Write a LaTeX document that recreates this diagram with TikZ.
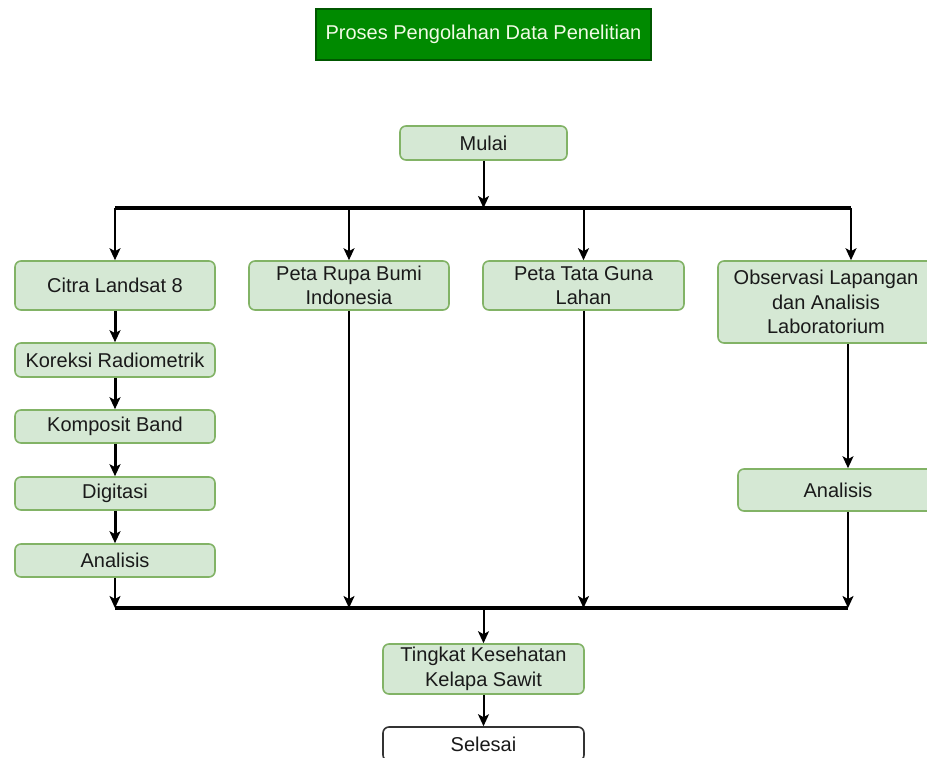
\documentclass[tikz,border=0pt]{standalone}
\usepackage{fontspec}
\setmainfont{Liberation Sans}
\usetikzlibrary{arrows.meta}
\definecolor{boxfill}{HTML}{D5E8D4}
\definecolor{boxline}{HTML}{82B366}
\definecolor{titlefill}{HTML}{008A00}
\definecolor{titleline}{HTML}{005700}
\definecolor{titletxt}{HTML}{F2FBE6}
\definecolor{txt}{HTML}{1A1A1A}
\tikzset{
  gbox/.style={draw=boxline, fill=boxfill, line width=1.6pt, rounded corners=6pt,
    align=center, text=txt, inner sep=0pt, font=\fontsize{20}{24.5}\selectfont},
  wbox/.style={draw=black!80, fill=white, line width=1.6pt, rounded corners=6pt,
    align=center, text=txt, inner sep=0pt, font=\fontsize{20}{24.5}\selectfont},
  titlebox/.style={draw=titleline, fill=titlefill, line width=1.2pt,
    text=titletxt, inner sep=0pt, font=\fontsize{20}{24}\selectfont},
  thin/.style={line width=2pt, -{Stealth[length=12pt,width=11pt,inset=3pt]}},
  thick/.style={line width=3pt, -{Stealth[length=12pt,width=11pt,inset=3pt]}},
  bar/.style={line width=3.2pt},
}
\begin{document}
\begin{tikzpicture}[x=1pt,y=-1pt]
\useasboundingbox (0,0) rectangle (927,758);
\clip (0,0) rectangle (927,758);
% title
\node[titlebox, minimum width=335pt, minimum height=51pt] (title) at (483.5,34.5) {Proses Pengolahan Data Penelitian};
% start
\node[gbox, minimum width=167pt, minimum height=34pt] (mulai) at (483.5,143) {Mulai};
% column heads
\node[gbox, minimum width=200pt, minimum height=49pt] (citra) at (115,285.5) {Citra Landsat 8};
\node[gbox, minimum width=200pt, minimum height=49pt] (rbi) at (349,285.5) {Peta Rupa Bumi\\Indonesia};
\node[gbox, minimum width=201pt, minimum height=49pt] (tgl) at (583.5,285.5) {Peta Tata Guna\\Lahan};
\node[gbox, minimum width=216pt, minimum height=82pt] (obs) at (826,302) {Observasi Lapangan\\dan Analisis\\Laboratorium};
% left chain
\node[gbox, minimum width=200pt, minimum height=34pt] (kor) at (115,360) {Koreksi Radiometrik};
\node[gbox, minimum width=200pt, minimum height=33pt] (kom) at (115,426.5) {Komposit Band};
\node[gbox, minimum width=200pt, minimum height=33pt] (dig) at (115,493.5) {Digitasi};
\node[gbox, minimum width=200pt, minimum height=33pt] (anl) at (115,560.5) {Analisis};
% right chain
\node[gbox, minimum width=200pt, minimum height=42pt] (anr) at (838,490) {Analisis};
% end
\node[gbox, minimum width=201pt, minimum height=50pt] (tks) at (483.5,669) {Tingkat Kesehatan\\Kelapa Sawit};
\node[wbox, minimum width=201pt, minimum height=34pt] (sel) at (483.5,744) {Selesai};
% junction coordinates
\coordinate (t0) at (483.5,208);
\coordinate (t1) at (115,208);
\coordinate (t2) at (349,208);
\coordinate (t3) at (583.5,208);
\coordinate (t4) at (851,208);
\coordinate (b0) at (483.5,608);
\coordinate (b1) at (115,608);
\coordinate (b2) at (349,608);
\coordinate (b3) at (583.5,608);
\coordinate (b4) at (848,608);
% top distribution
\draw[thin] (mulai) -- (t0);
\draw[bar] (t1) -- (t4);
\draw[thin] (t1) -- (citra);
\draw[thin] (t2) -- (rbi);
\draw[thin] (t3) -- (tgl);
\draw[thin] (t4) -- (obs.north -| t4);
% left chain
\draw[thick] (citra) -- (kor);
\draw[thick] (kor) -- (kom);
\draw[thick] (kom) -- (dig);
\draw[thick] (dig) -- (anl);
% right chain
\draw[thin] (obs.south -| b4) -- (anr.north -| b4);
% to bottom bar
\draw[thin] (anl) -- (b1);
\draw[thin] (rbi) -- (b2);
\draw[thin] (tgl) -- (b3);
\draw[thin] (anr.south -| b4) -- (b4);
\draw[bar] (b1) -- (b4);
% end
\draw[thin] (b0) -- (tks);
\draw[thin] (tks) -- (sel);
\end{tikzpicture}
\end{document}
